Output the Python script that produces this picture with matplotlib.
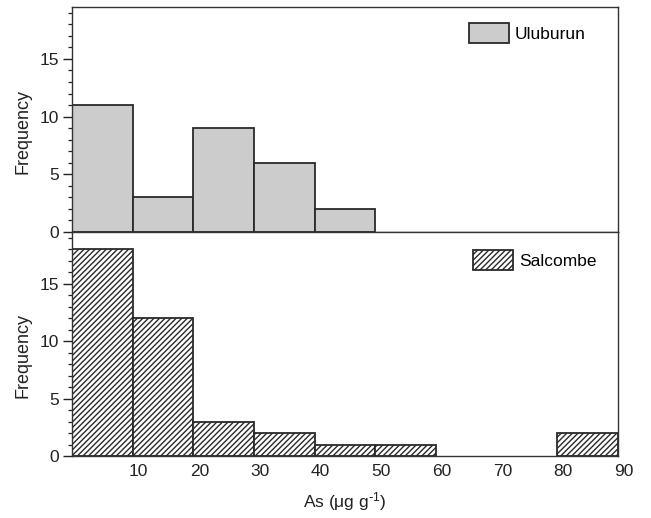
import matplotlib
matplotlib.use("Agg")
import matplotlib.pyplot as plt
import matplotlib.transforms as mtransforms
from matplotlib.ticker import MultipleLocator

plt.rcParams['font.family'] = ['Liberation Sans', 'DejaVu Sans']
plt.rcParams['mathtext.default'] = 'regular'
plt.rcParams['hatch.linewidth'] = 1.0

bin_edges = [0, 10, 20, 30, 40, 50, 60, 70, 80, 90]
uluburun_counts = [11, 3, 9, 6, 2, 0, 0, 0, 0]
salcombe_counts = [18, 12, 3, 2, 1, 1, 0, 0, 2]
x_ticks = [10, 20, 30, 40, 50, 60, 70, 80, 90]
y_ticks = [0, 5, 10, 15]

fig = plt.figure(figsize=(6.51, 5.18), dpi=100)
left, right = 72 / 651, 618 / 651
ax1 = fig.add_axes([left, 1 - 232 / 518, right - left, (232 - 7) / 518])
ax2 = fig.add_axes([left, 1 - 456 / 518, right - left, (456 - 232) / 518], sharex=ax1)

edge = '#2a2a2a'
widths = [bin_edges[i + 1] - bin_edges[i] for i in range(len(bin_edges) - 1)]
lefts = bin_edges[:-1]

u_l = [l for l, c in zip(lefts, uluburun_counts) if c > 0]
u_w = [w for w, c in zip(widths, uluburun_counts) if c > 0]
u_c = [c for c in uluburun_counts if c > 0]
ax1.bar(u_l, u_c, width=u_w, align='edge', color='#cccccc', edgecolor=edge,
        linewidth=1.3, label='Uluburun')

s_l = [l for l, c in zip(lefts, salcombe_counts) if c > 0]
s_w = [w for w, c in zip(widths, salcombe_counts) if c > 0]
s_c = [c for c in salcombe_counts if c > 0]
ax2.bar(s_l, s_c, width=s_w, align='edge', color='white', edgecolor=edge,
        linewidth=1.3, hatch='//////', label='Salcombe')

legend_anchor = {ax1: (0.701, 0.99), ax2: (0.709, 0.98)}
for ax in (ax1, ax2):
    ax.set_xlim(0, 90)
    ax.set_ylim(0, 19.5)
    ax.set_yticks(y_ticks)
    ax.yaxis.set_minor_locator(MultipleLocator(1))
    ax.tick_params(axis='y', which='major', direction='out', length=6.5, width=1.0,
                   labelsize=12.5, colors='#222222', pad=3)
    ax.tick_params(axis='y', which='minor', direction='out', length=3, width=0.9,
                   colors='#222222')
    ax.set_ylabel('Frequency', fontsize=13, color='#222222')
    ax.yaxis.set_label_coords(-0.074, 0.448)
    for sp in ax.spines.values():
        sp.set_linewidth(1.0)
        sp.set_color('#333333')
    ax.legend(loc='upper left', frameon=False, fontsize=12.5,
              handlelength=2.3, handleheight=1.35, handletextpad=0.35,
              borderpad=0.3, bbox_to_anchor=legend_anchor[ax])

ax1.tick_params(axis='x', which='both', bottom=False, labelbottom=False)
ax2.set_xticks(x_ticks)
ax2.tick_params(axis='x', which='both', length=0, labelsize=12.5, colors='#222222', pad=6)
offset = mtransforms.ScaledTranslation(6 / 100, 0, fig.dpi_scale_trans)
for lab in ax2.get_xticklabels():
    lab.set_transform(lab.get_transform() + offset)
ax2.set_xlabel('As (\u03bcg g$^{\\text{-}1}$)', fontsize=12.5, color='#222222', labelpad=8)

fig.savefig('out.png', dpi=100)
